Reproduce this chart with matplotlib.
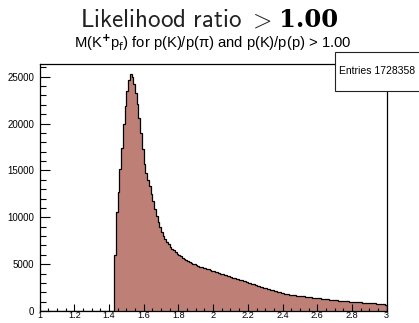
import numpy as np
import matplotlib
matplotlib.use("Agg")
import matplotlib.pyplot as plt
from matplotlib.patches import Rectangle
from matplotlib.ticker import MultipleLocator

# M(K+ p) histogram, 0.01 wide bins from 1 to 3, empty below threshold (1.43)
x_lo = 1.0
x_hi = 3.0
bin_width = 0.01
first_filled = 1.43
counts_filled = [
    6000, 10600, 12700, 15100, 17400, 19900, 21900, 23500, 24600, 25250,
    24950, 24200, 23300, 22100, 20600, 19000, 17300, 15700, 14700, 14000,
    13300, 12500, 11700, 10900, 10150, 9500, 8950, 8450, 8050, 7700,
    7380, 7100, 6850, 6640, 6460, 6270, 6120, 5960, 5840, 5700,
    5600, 5470, 5380, 5250, 5160, 5060, 4990, 4900, 4830, 4740,
    4690, 4610, 4560, 4490, 4440, 4360, 4310,
    4240, 4190, 4110, 4060, 3990, 3930, 3850, 3790, 3730, 3690,
    3620, 3570, 3510, 3460, 3400, 3330, 3280, 3210, 3150, 3090,
    3030, 2960, 2890, 2840, 2770, 2710, 2660, 2590, 2530, 2480,
    2410, 2360, 2300, 2250, 2200, 2150, 2090, 2050, 2000, 1950,
    1900, 1860, 1830, 1790, 1760, 1730, 1700, 1680, 1650, 1630,
    1600, 1580, 1550, 1530, 1510, 1490, 1460, 1440, 1410, 1390,
    1360, 1340, 1320, 1290, 1270, 1250, 1230, 1210, 1190, 1170,
    1150, 1130, 1110, 1090, 1070, 1060, 1040, 1030, 1010, 1000,
    980, 970, 950, 940, 930, 910, 900, 890, 870, 860,
    850, 840, 820, 810, 790, 770, 750, 730, 700, 650,
]
n_entries = 1728358
x_ticks = [1, 1.2, 1.4, 1.6, 1.8, 2, 2.2, 2.4, 2.6, 2.8, 3]
x_tick_labels = ["1", "1.2", "1.4", "1.6", "1.8", "2", "2.2", "2.4", "2.6", "2.8", "3"]
y_ticks = [0, 5000, 10000, 15000, 20000, 25000]
y_tick_labels = ["0", "5000", "10000", "15000", "20000", "25000"]

n_bins = int(round((x_hi - x_lo) / bin_width))
edges = np.round(np.linspace(x_lo, x_hi, n_bins + 1), 4)
n_empty = int(round((first_filled - x_lo) / bin_width))
counts = np.array([0] * n_empty + counts_filled, dtype=float)
assert len(counts) == n_bins

plt.rcParams['font.family'] = ['Liberation Sans', 'DejaVu Sans']

W, H = 419, 323
fig = plt.figure(figsize=(W / 100, H / 100), dpi=100)
ax = fig.add_axes([39.5 / W, 1 - 311 / H, (386.7 - 39.5) / W, (311 - 63.5) / H])

ax.stairs(counts, edges, fill=True, color="#be8076", linewidth=0)
ax.stairs(counts, edges, fill=False, color="black", linewidth=0.9)

ax.set_xlim(x_lo, x_hi)
ax.set_ylim(0, 26400)
ax.set_xticks(x_ticks)
ax.set_xticklabels(x_tick_labels)
ax.set_yticks(y_ticks)
ax.set_yticklabels(y_tick_labels)
ax.xaxis.set_minor_locator(MultipleLocator(0.05))
ax.yaxis.set_minor_locator(MultipleLocator(1000))
ax.tick_params(axis='x', which='major', direction='in', length=5, width=0.8,
               labelsize=6.6, pad=0, top=False)
ax.tick_params(axis='x', which='minor', direction='in', length=2.5, width=0.8, top=False)
ax.tick_params(axis='y', which='major', direction='in', length=7.5, width=0.8,
               labelsize=7, pad=4, right=False)
ax.tick_params(axis='y', which='minor', direction='in', length=4, width=0.8, right=False)
for s in ax.spines.values():
    s.set_linewidth(0.9)

# stats box (runs off the right edge)
box = Rectangle((335 / W, 1 - 90.5 / H), 100 / W, 38 / H, transform=fig.transFigure,
                facecolor="white", edgecolor="#222222", linewidth=0.8, zorder=5)
fig.patches.append(box)
fig.text(339 / W, 1 - 71 / H, f"Entries {n_entries}", fontsize=7.5,
         va='center', ha='left', zorder=6)

# title: light sans part in cm math, then the bold number next to it
t1 = fig.text(80 / W, 1 - 27 / H, r"$\mathsf{Likelihood\ ratio}\ >$",
              math_fontfamily='cm', fontsize=18, ha='left', va='baseline',
              color="#222222")
ax.annotate("1.00", xy=(1, 0), xycoords=t1, xytext=(5, 0), textcoords='offset points',
            family='DejaVu Serif', fontweight='bold', fontsize=17.5,
            ha='left', va='bottom', annotation_clip=False)
fig.text(0.508, 1 - 48 / H,
         r"M(K$^{\mathbf{+}}$p$_{\mathsf{f}}$) for p(K)/p(π) and p(K)/p(p) > 1.00",
         math_fontfamily='dejavusans', fontsize=10.6, ha='center', va='baseline')

fig.savefig("out.png", dpi=100)
